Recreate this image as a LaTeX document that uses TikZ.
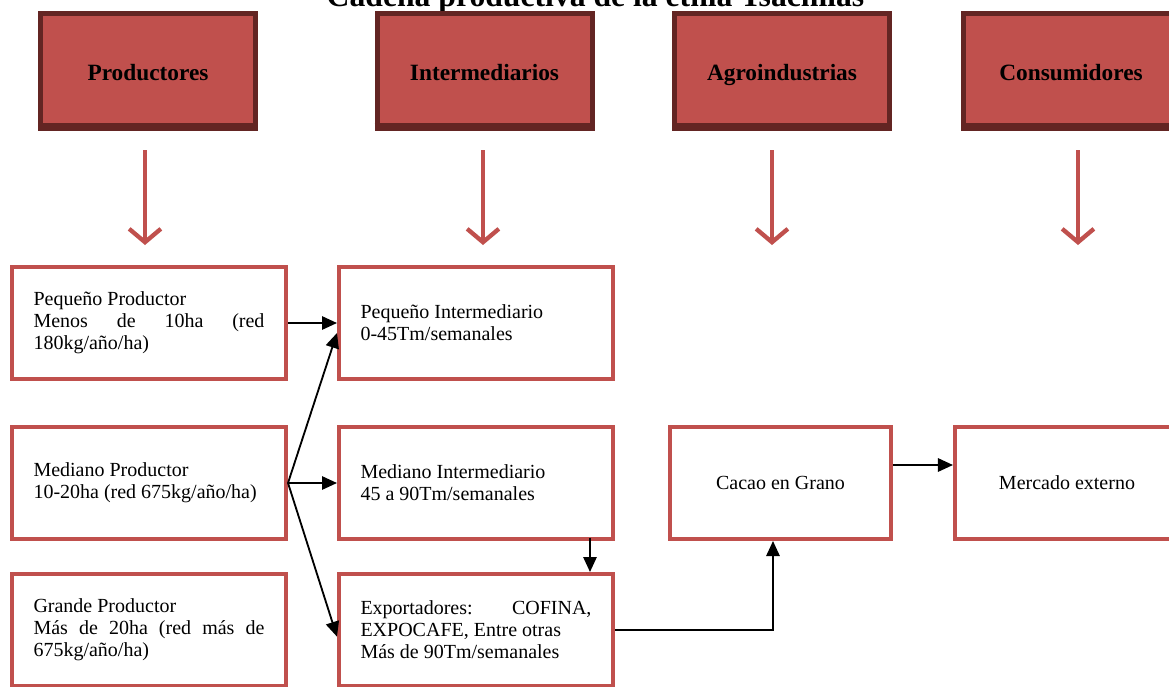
\documentclass[tikz,border=0pt]{standalone}
\usepackage{fontspec}
\setmainfont{Liberation Serif}
\usetikzlibrary{arrows.meta,positioning}
\definecolor{cellred}{HTML}{C0504D}
\definecolor{hdrdark}{HTML}{632523}
\tikzset{
  hdr/.style={draw=hdrdark,fill=cellred,line width=3pt,minimum width=129pt,minimum height=69pt,text height=12pt,text depth=0.8pt,font=\fontsize{14}{16}\selectfont\bfseries},
  cell/.style={draw=cellred,line width=2.4pt,fill=white,minimum width=164.4pt,minimum height=67.2pt,font=\fontsize{12}{13.2}\selectfont},
  jcell/.style={cell,text width=138.6pt,align=justify},
  redarr/.style={draw=cellred,line width=2.6pt,-{Straight Barb[length=8pt,width=19pt]}},
  blkarr/.style={draw=black,line width=1.1pt,-{Triangle[length=9pt,width=8pt]}}
}
\begin{document}
\begin{tikzpicture}[x=0.6pt,y=-0.6pt]
\useasboundingbox (0,0) rectangle (1169,686);
\node[font=\fontsize{19}{22}\selectfont\bfseries,anchor=base] (T) at (595.5,6) {Cadena productiva de la etnia Tsachilas};

\foreach \t/\x/\a [count=\n] in {Productores/148/145,Intermediarios/484.5/483,Agroindustrias/782/772,Consumidores/1071/1078}
  {
  \node[hdr] (H\n) at (\x,71) {\t};
  \draw[hdrdark,line width=1.8pt] ([yshift=3.9pt]H\n.south west) -- ([yshift=3.9pt]H\n.south east);
  \coordinate (a\n) at (\a,245);
  \draw[redarr,shorten <=11.4pt] (H\n.south -| a\n) -- (a\n);
  }

\node[jcell] (PP) at (149,323) {Pequeño Productor\\Menos de 10ha (red 180kg/año/ha)};
\node[jcell,right=29.4pt of PP] (PI) {Pequeño Intermediario\\0-45Tm/semanales};
\node[jcell,below=26.4pt of PP] (MP) {Mediano Productor\\10-20ha (red 675kg/año/ha)};
\node[jcell,right=29.4pt of MP] (MI) {Mediano Intermediario\\45 a 90Tm/semanales};
\node[jcell,below=18.6pt of MP] (GP) {Grande Productor\\Más de 20ha (red más de 675kg/año/ha)};
\node[jcell,right=29.4pt of GP] (EX) {Exportadores: COFINA, EXPOCAFE, Entre otras\\Más de 90Tm/semanales};
\node[cell,minimum width=132.6pt,right=31.8pt of MI] (CG) {Cacao en Grano};
\node[cell,minimum width=134.4pt,right=36pt of CG] (MK) {Mercado externo};

\draw[blkarr] (PP) -- (PI);
\draw[blkarr] (MP.east) -- ([yshift=-6pt]PI.west);
\draw[blkarr] (MP.east) -- (MI.west);
\draw[blkarr] (MP.east) -- ([yshift=-4pt]EX.west);
\draw[blkarr] ([xshift=68.4pt,yshift=2pt]MI.south) -- ([xshift=68.4pt]EX.north);
\draw[blkarr] (EX.east) -| ([xshift=-4.5pt]CG.south);
\draw[blkarr] ([yshift=10.8pt]CG.east) -- ([yshift=10.8pt]MK.west);
\end{tikzpicture}
\end{document}
